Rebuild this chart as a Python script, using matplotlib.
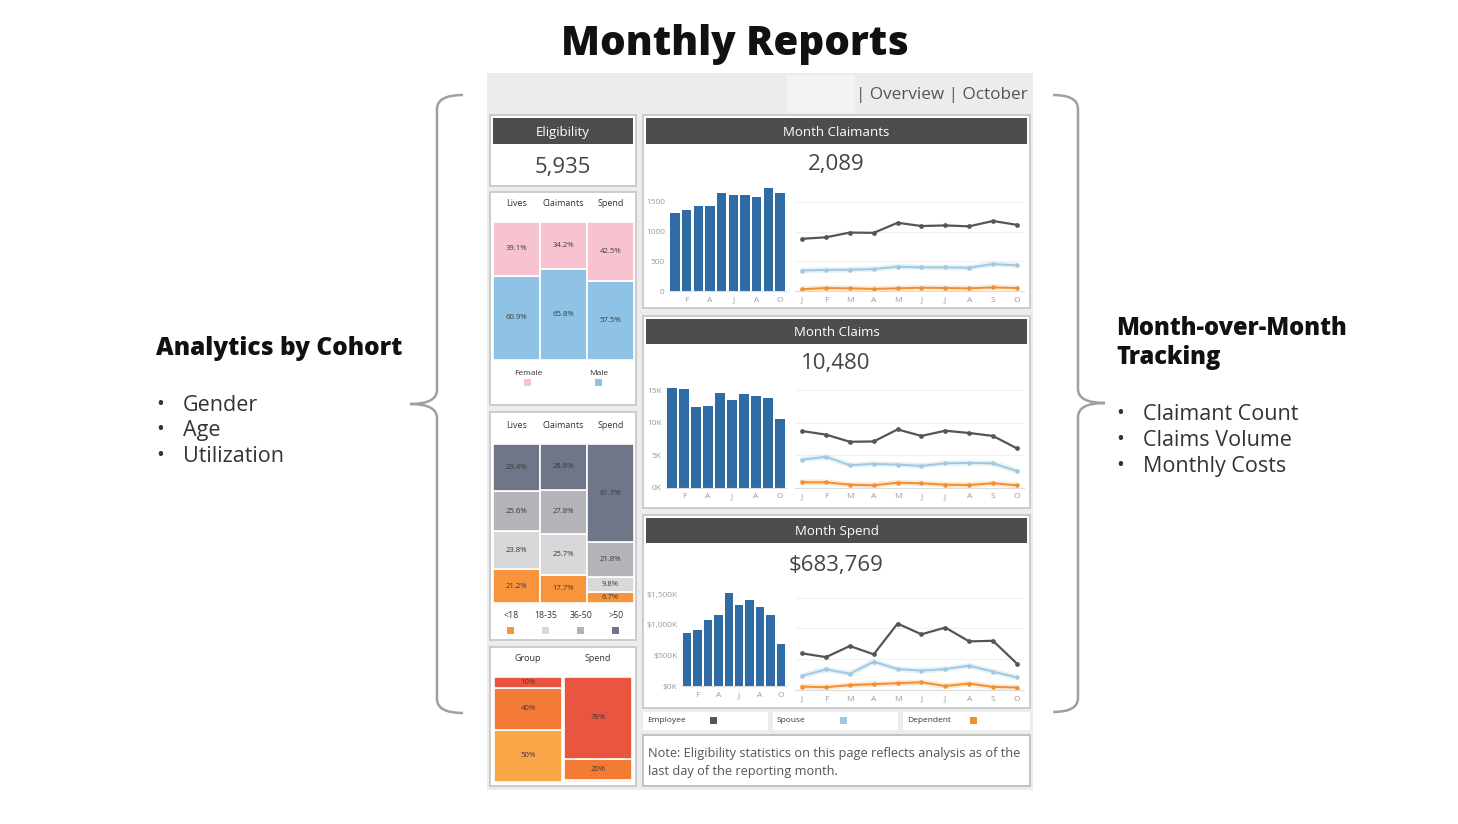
import numpy as np
import matplotlib.pyplot as plt
from matplotlib.patches import Rectangle, PathPatch
from matplotlib.path import Path

plt.rcParams['font.family'] = ['Open Sans', 'DejaVu Sans']

# ---- data -------------------------------------------------------------
months = ['J', 'F', 'M', 'A', 'M', 'J', 'J', 'A', 'S', 'O']

claimants_total = [1310, 1365, 1425, 1425, 1660, 1610, 1615, 1590, 1740, 1660]
claimants_employee = [880, 905, 985, 980, 1150, 1095, 1105, 1090, 1180, 1115]
claimants_spouse = [345, 355, 358, 370, 410, 398, 398, 392, 455, 433]
claimants_dependent = [30, 50, 45, 35, 45, 55, 50, 45, 60, 50]

claims_total = [15350, 15150, 12350, 12600, 14600, 13400, 14350, 14100, 13800, 10480]
claims_employee = [8700, 8150, 7050, 7100, 8950, 7950, 8750, 8400, 7950, 6050]
claims_spouse = [4300, 4750, 3450, 3650, 3550, 3350, 3750, 3800, 3750, 2550]
claims_dependent = [830, 830, 460, 370, 770, 680, 460, 420, 680, 370]

# spend in $K
spend_total = [860, 910, 1070, 1160, 1520, 1325, 1405, 1285, 1155, 684]
spend_employee = [595, 535, 715, 580, 1080, 905, 1015, 790, 800, 430]
spend_spouse = [230, 335, 265, 460, 340, 315, 340, 395, 300, 205]
spend_dependent = [55, 45, 80, 95, 110, 125, 65, 105, 50, 40]

gender_cols = ['Lives', 'Claimants', 'Spend']
male_pct = [60.9, 65.8, 57.5]
female_pct = [39.1, 34.2, 42.5]

age_cols = ['Lives', 'Claimants', 'Spend']
age_groups = ['<18', '18-35', '36-50', '>50']
age_lt18 = [21.2, 17.7, 6.7]
age_18_35 = [23.8, 25.7, 9.8]
age_36_50 = [25.6, 27.8, 21.8]
age_gt50 = [29.4, 28.8, 61.7]

util_cols = ['Group', 'Spend']
util_low = [50, 2]
util_mid = [40, 20]
util_high = [10, 78]

eligibility = '5,935'
claimants_now = '2,089'
claims_now = '10,480'
spend_now = '$683,769'

# ---- colours ------------------------------------------------------------
BAR = '#2f6ba5'
EMP, SPO, DEP = '#555555', '#9fc8e3', '#f28e2b'
PINK, BLUE = '#f8c3d0', '#8fc3e6'
AGE_COLORS = ['#f8953c', '#d8d8da', '#b4b4b8', '#6f7687']
UTIL_COLORS = ['#f9a548', '#f47b36', '#e9563f']
HEAD = '#4d4d4d'

W, H = 1458, 824
fig = plt.figure(figsize=(W / 100, H / 100), dpi=100)
fig.patch.set_facecolor('white')
bg = fig.add_axes([0, 0, 1, 1])
bg.set_xlim(0, W)
bg.set_ylim(H, 0)
bg.axis('off')


def px_axes(x0, y0, x1, y1):
    ax = fig.add_axes([x0 / W, 1 - y1 / H, (x1 - x0) / W, (y1 - y0) / H])
    ax.set_facecolor('none')
    return ax


def box(x0, y0, x1, y1, fc='white', ec='none', lw=1.0):
    bg.add_patch(Rectangle((x0, y0), x1 - x0, y1 - y0, facecolor=fc,
                           edgecolor=ec, linewidth=lw))


def brace(x_end, x_mid, x_tip, y0, ym, y1, r=14):
    verts = [(x_end, y0), (x_mid, y0), (x_mid, y0 + r),
             (x_mid, ym - r), (x_mid, ym), (x_tip, ym),
             (x_mid, ym), (x_mid, ym + r),
             (x_mid, y1 - r), (x_mid, y1), (x_end, y1)]
    codes = [Path.MOVETO, Path.CURVE3, Path.CURVE3, Path.LINETO,
             Path.CURVE3, Path.CURVE3, Path.CURVE3, Path.CURVE3,
             Path.LINETO, Path.CURVE3, Path.CURVE3]
    bg.add_patch(PathPatch(Path(verts, codes), fill=False,
                           edgecolor='#a0a0a0', linewidth=1.8))


# ---- page text -----------------------------------------------------------
bg.text(735, 44, 'Monthly Reports', fontsize=29, fontweight=800,
        ha='center', va='center', color='#111111')

bg.text(156, 348, 'Analytics by Cohort', fontsize=17.6, fontweight=800,
        va='center', color='#111111')
for y, t in zip([403, 428, 454], ['Gender', 'Age', 'Utilization']):
    bg.text(156, y + 1, '•', fontsize=15, va='center', color='#333333')
    bg.text(183, y + 2, t, fontsize=15.5, va='center', color='#333333')

bg.text(1116, 328, 'Month-over-Month', fontsize=17, fontweight=800,
        va='center', color='#111111')
bg.text(1116, 357, 'Tracking', fontsize=17, fontweight=800,
        va='center', color='#111111')
for y, t in zip([412, 438, 464], ['Claimant Count', 'Claims Volume', 'Monthly Costs']):
    bg.text(1116, y + 1, '•', fontsize=15, va='center', color='#333333')
    bg.text(1143, y + 2, t, fontsize=15.5, va='center', color='#333333')

brace(463, 437, 410, 95, 404, 713)
brace(1053, 1078, 1105, 95, 403, 712)

# ---- dashboard frame -----------------------------------------------------
box(487, 73, 1033, 790, fc='#ececec')
box(787, 75, 855, 113, fc='#f3f3f4')
bg.text(1028, 95, '| Overview | October', fontsize=12.3, ha='right', va='center',
        color='#555555')

CARD_EC = '#c8c8c8'
for c in [(490, 115, 636, 186), (490, 192, 636, 405), (490, 412, 636, 640),
          (490, 647, 636, 786), (643, 115, 1030, 308), (643, 316, 1030, 508),
          (643, 515, 1030, 708)]:
    box(*c, ec=CARD_EC, lw=1.3)

for (x0, y0, x1, y1), t in zip([(493, 118, 633, 144), (646, 118, 1027, 144),
                                (646, 319, 1027, 344), (646, 518, 1027, 543)],
                               ['Eligibility', 'Month Claimants', 'Month Claims', 'Month Spend']):
    box(x0, y0, x1, y1, fc=HEAD)
    bg.text((x0 + x1) / 2, (y0 + y1) / 2 + 1, t, fontsize=9.5, color='white',
            ha='center', va='center')

for x, y, t in [(563, 167, eligibility), (836, 164, claimants_now),
                (836, 363, claims_now), (836, 566, spend_now)]:
    bg.text(x, y, t, fontsize=16, color='#444444', ha='center', va='center')

# legend row + note
for (x0, x1), name, col in zip([(643, 768), (773, 898), (903, 1030)],
                               ['Employee', 'Spouse', 'Dependent'], [EMP, SPO, DEP]):
    box(x0, 712, x1, 730)
    bg.text(x0 + 4, 721, name, fontsize=6, va='center', color='#333333')
    box(x0 + 67, 717, x0 + 74, 724, fc=col)

box(643, 735, 1030, 786, ec='#bdbdbd', lw=1.3)
bg.text(648, 753, 'Note: Eligibility statistics on this page reflects analysis as of the',
        fontsize=9.2, va='center', color='#555555')
bg.text(648, 771, 'last day of the reporting month.', fontsize=9.2, va='center',
        color='#555555')


# ---- cohort stacked columns ----------------------------------------------
def stacked(ax, cols, series, colors, fmt, min_label=5):
    x = np.arange(len(cols))
    bottoms = np.zeros(len(cols))
    for vals, col in zip(series, colors):
        vals = np.asarray(vals, dtype=float)
        ax.bar(x, vals, bottom=bottoms, width=0.985, color=col,
               edgecolor='white', linewidth=1.2)
        for i, v in enumerate(vals):
            if v >= min_label:
                ax.text(i, bottoms[i] + v / 2, fmt.format(v), fontsize=5.6,
                        ha='center', va='center', color='#3a3a3a')
        bottoms += vals
    ax.set_xlim(-0.5, len(cols) - 0.5)
    ax.set_ylim(0, bottoms.max())
    ax.xaxis.tick_top()
    ax.set_xticks(x)
    ax.set_xticklabels(cols)
    ax.tick_params(length=0, labelsize=6.5, labelcolor='#333333', pad=10)
    ax.set_yticks([])
    for s in ax.spines.values():
        s.set_visible(False)


ax = px_axes(493, 222, 634, 360)
stacked(ax, gender_cols, [male_pct, female_pct], [BLUE, PINK], '{:.1f}%')
for x, t, col in [(528, 'Female', PINK), (599, 'Male', BLUE)]:
    bg.text(x, 373, t, fontsize=6, ha='center', va='center', color='#333333')
    box(x - 3.5, 379, x + 3.5, 386, fc=col)

ax = px_axes(493, 444, 634, 603)
stacked(ax, age_cols, [age_lt18, age_18_35, age_36_50, age_gt50], AGE_COLORS, '{:.1f}%')
for x, t, col in zip([511, 546, 581, 616], age_groups, AGE_COLORS):
    bg.text(x, 615, t, fontsize=6.3, ha='center', va='center', color='#333333')
    box(x - 3.5, 627, x + 3.5, 634, fc=col)

ax = px_axes(493, 677, 633, 782)
stacked(ax, util_cols, [util_low, util_mid, util_high], UTIL_COLORS, '{:.0f}%')


# ---- month over month panels ---------------------------------------------
def month_panel(bar_box, line_box, total, emp, sp, dep, ymax, ticks, labels):
    x = np.arange(len(months))
    ax = px_axes(*bar_box)
    ax.bar(x, total, width=0.8, color=BAR)
    ax.set_xlim(-0.5, len(months) - 0.5)
    ax.set_ylim(0, ymax)
    ax.set_xticks(x[1::2])
    ax.set_xticklabels(months[1::2])
    ax.set_yticks(ticks)
    ax.set_yticklabels(labels)
    ax.tick_params(length=0, labelsize=6, labelcolor='#9a9a9a')
    ax.tick_params(axis='x', pad=4)
    ax.tick_params(axis='y', pad=3)
    for s in ['top', 'right', 'left']:
        ax.spines[s].set_visible(False)
    ax.spines['bottom'].set_color('#dddddd')

    lx = px_axes(*line_box)
    lx.plot(x, sp, color=SPO, lw=4, alpha=0.25, solid_capstyle='round')
    lx.plot(x, dep, color=DEP, lw=4, alpha=0.2, solid_capstyle='round')
    lx.plot(x, emp, color=EMP, lw=1.6, marker='o', ms=2.4)
    lx.plot(x, sp, color=SPO, lw=1.4, marker='o', ms=2.2)
    lx.plot(x, dep, color=DEP, lw=1.4, marker='o', ms=2.2)
    lx.set_xlim(-0.3, len(months) - 0.7)
    lx.set_ylim(0, ymax)
    lx.set_xticks(x)
    lx.set_xticklabels(months)
    lx.set_yticks(ticks)
    lx.grid(axis='y', color='#f1f1f1', lw=0.8)
    lx.set_axisbelow(True)
    lx.tick_params(length=0, labelsize=6, labelcolor='#9a9a9a', labelleft=False)
    lx.tick_params(axis='x', pad=4)
    for s in ['top', 'right', 'left']:
        lx.spines[s].set_visible(False)
    lx.spines['bottom'].set_color('#dddddd')


month_panel((669, 184.2, 786, 291), (795, 184.2, 1024, 291),
            claimants_total, claimants_employee, claimants_spouse, claimants_dependent,
            1800, [0, 500, 1000, 1500], ['0', '500', '1000', '1500'])
month_panel((666, 383.5, 786, 487.7), (795, 383.5, 1024, 487.7),
            claims_total, claims_employee, claims_spouse, claims_dependent,
            16000, [0, 5000, 10000, 15000], ['0K', '5K', '10K', '15K'])
month_panel((682, 584.8, 786, 686.3), (795, 588.5, 1024, 690),
            spend_total, spend_employee, spend_spouse, spend_dependent,
            1650, [0, 500, 1000, 1500], ['$0K', '$500K', '$1,000K', '$1,500K'])

fig.savefig('out.png', dpi=100, facecolor='white')
